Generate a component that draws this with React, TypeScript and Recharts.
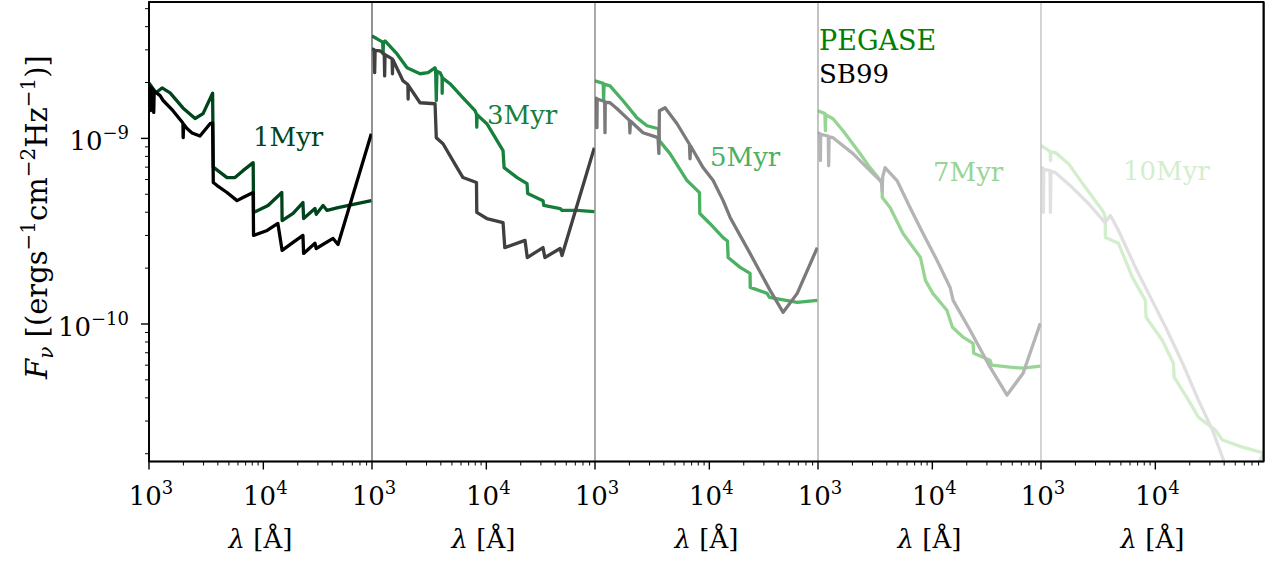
import React from 'react';
import { LineChart, Line, XAxis, YAxis, ReferenceLine } from 'recharts';

type Pt = [number, number];

const X_MIN = 1000;
const X_MAX = 89000;
const Y_MIN = 1.816e-11;
const Y_MAX = 5.43e-9;

const X_TICKS = [
  1000, 2000, 3000, 4000, 5000, 6000, 7000, 8000, 9000,
  10000, 20000, 30000, 40000, 50000, 60000, 70000, 80000,
];
const Y_TICKS = [
  2e-11, 3e-11, 4e-11, 5e-11, 6e-11, 7e-11, 8e-11, 9e-11,
  1e-10, 2e-10, 3e-10, 4e-10, 5e-10, 6e-10, 7e-10, 8e-10, 9e-10,
  1e-9, 2e-9, 3e-9, 4e-9, 5e-9,
];

const AGES = ['1Myr', '3Myr', '5Myr', '7Myr', '10Myr'];
const PEGASE_COLORS = ['#00441b', '#157f3b', '#4bb062', '#98d594', '#d3eecd'];
const SB99_COLORS = ['#000000', '#404040', '#7a7a7a', '#b5b5b5', '#e0e0e0'];
const SPINE_COLORS = ['#262626', '#555555', '#888888', '#aaaaaa'];

// [wavelength in Å, F_nu]
const PEGASE_1: Pt[] = [
  [1000, 1.99e-9], [1150, 1.76e-9], [1300, 1.87e-9], [1530, 1.76e-9], [1980, 1.46e-9],
  [2530, 1.28e-9], [2970, 1.36e-9], [3600, 1.75e-9], [3650, 0.7e-9], [4810, 0.615e-9],
  [5650, 0.615e-9], [6640, 0.67e-9], [8150, 0.74e-9], [8210, 0.399e-9], [11000, 0.435e-9],
  [14500, 0.511e-9], [14600, 0.361e-9], [18200, 0.394e-9], [22200, 0.451e-9], [22500, 0.37e-9],
  [28300, 0.419e-9], [29000, 0.39e-9], [33300, 0.435e-9], [36100, 0.409e-9], [45000, 0.424e-9],
  [60000, 0.44e-9], [88000, 0.462e-9],
];
const SB99_1: Pt[] = [
  [1000, 1.92e-9], [1025, 1.9e-9], [1030, 1.41e-9], [1036, 1.88e-9], [1090, 1.82e-9],
  [1100, 1.38e-9], [1110, 1.8e-9], [1250, 1.7e-9], [1330, 1.6e-9], [1620, 1.41e-9],
  [1980, 1.21e-9], [1990, 1.01e-9], [2010, 1.19e-9], [2150, 1.13e-9], [2380, 1.07e-9],
  [2790, 1.03e-9], [3420, 1.2e-9], [3600, 1.21e-9], [3650, 0.578e-9], [3940, 0.557e-9],
  [4810, 0.511e-9], [5890, 0.462e-9], [6640, 0.48e-9], [8150, 0.511e-9], [8210, 0.3e-9],
  [10800, 0.319e-9], [13400, 0.348e-9], [14600, 0.249e-9], [18200, 0.275e-9], [22200, 0.3e-9],
  [22500, 0.24e-9], [28300, 0.272e-9], [29000, 0.255e-9], [40700, 0.289e-9], [45000, 0.268e-9],
  [88000, 1.06e-9],
];
const PEGASE_3: Pt[] = [
  [1000, 3.56e-9], [1106, 3.44e-9], [1240, 3.3e-9], [1250, 2.85e-9], [1260, 3.3e-9],
  [1300, 3.35e-9], [1655, 2.85e-9], [2024, 2.4e-9], [2630, 2.23e-9], [3090, 2.26e-9],
  [3557, 2.4e-9], [3600, 2.35e-9], [3650, 1.6e-9], [3700, 2.3e-9], [3940, 2.26e-9],
  [4100, 2.15e-9], [4110, 1.75e-9], [4120, 2.12e-9], [4810, 1.97e-9], [6250, 1.655e-9],
  [7960, 1.41e-9], [8200, 1.35e-9], [8250, 1.15e-9], [8300, 1.34e-9], [10100, 1.2e-9],
  [14000, 0.859e-9], [14300, 0.696e-9], [18600, 0.615e-9], [22700, 0.571e-9], [23000, 0.504e-9],
  [31300, 0.462e-9], [31800, 0.435e-9], [44200, 0.419e-9], [46000, 0.409e-9], [62200, 0.409e-9],
  [88000, 0.403e-9],
];
const SB99_3: Pt[] = [
  [1000, 3.04e-9], [1045, 3.0e-9], [1055, 2.26e-9], [1065, 2.98e-9], [1175, 2.96e-9],
  [1280, 2.85e-9], [1290, 2.17e-9], [1300, 2.83e-9], [1500, 2.68e-9], [1510, 2.23e-9],
  [1520, 2.66e-9], [1870, 2.04e-9], [2060, 1.95e-9], [2070, 1.63e-9], [2080, 1.93e-9],
  [2630, 1.556e-9], [3560, 1.537e-9], [3650, 1.009e-9], [4180, 0.936e-9], [5540, 0.696e-9],
  [6250, 0.615e-9], [8200, 0.578e-9], [8250, 0.399e-9], [10100, 0.37e-9], [14000, 0.352e-9],
  [14500, 0.258e-9], [21800, 0.282e-9], [22800, 0.228e-9], [31300, 0.258e-9], [32500, 0.228e-9],
  [44200, 0.255e-9], [45900, 0.234e-9], [88000, 0.891e-9],
];
const PEGASE_5: Pt[] = [
  [1000, 2.04e-9], [1180, 1.98e-9], [1190, 1.6e-9], [1200, 1.96e-9], [1353, 1.92e-9],
  [1760, 1.595e-9], [2330, 1.29e-9], [2850, 1.17e-9], [3600, 1.127e-9], [3650, 0.972e-9],
  [4530, 0.828e-9], [6380, 0.593e-9], [8200, 0.51e-9], [8250, 0.394e-9], [10100, 0.348e-9],
  [13200, 0.292e-9], [14400, 0.28e-9], [14600, 0.228e-9], [18600, 0.2018e-9], [22700, 0.1873e-9],
  [22800, 0.1574e-9], [32000, 0.1462e-9], [33500, 0.1393e-9], [58700, 0.1308e-9], [88000, 0.1341e-9],
];
const SB99_5: Pt[] = [
  [1000, 1.655e-9], [1035, 1.64e-9], [1040, 1.142e-9], [1045, 1.63e-9], [1215, 1.58e-9],
  [1223, 1.073e-9], [1230, 1.57e-9], [1353, 1.556e-9], [1560, 1.445e-9], [2000, 1.25e-9],
  [2020, 1.07e-9], [2040, 1.24e-9], [2630, 1.073e-9], [3557, 1.009e-9], [3620, 0.83e-9],
  [3660, 1.41e-9], [4100, 1.462e-9], [5220, 1.199e-9], [6700, 0.93e-9], [6780, 0.777e-9],
  [6860, 0.91e-9], [8810, 0.696e-9], [10800, 0.593e-9], [13200, 0.462e-9], [15200, 0.375e-9],
  [22700, 0.24e-9], [34000, 0.1518e-9], [44200, 0.1156e-9], [58700, 0.1462e-9], [88000, 0.258e-9],
];
const PEGASE_7: Pt[] = [
  [1000, 1.409e-9], [1150, 1.36e-9], [1160, 1.1e-9], [1170, 1.34e-9], [1353, 1.276e-9],
  [1655, 1.1e-9], [2330, 0.828e-9], [2850, 0.696e-9], [3630, 0.578e-9], [3650, 0.48e-9],
  [4270, 0.424e-9], [5540, 0.307e-9], [7870, 0.2284e-9], [8700, 0.1718e-9], [10100, 0.1462e-9],
  [13400, 0.1185e-9], [15000, 0.096e-9], [18600, 0.0849e-9], [22700, 0.0787e-9], [23000, 0.0696e-9],
  [32000, 0.0638e-9], [33000, 0.06e-9], [47900, 0.0585e-9], [62200, 0.0578e-9], [88000, 0.0593e-9],
];
const SB99_7: Pt[] = [
  [1000, 1.073e-9], [1045, 1.06e-9], [1050, 0.76e-9], [1055, 1.05e-9], [1230, 1.03e-9],
  [1240, 0.713e-9], [1250, 1.02e-9], [1353, 1.009e-9], [2024, 0.828e-9], [2680, 0.696e-9],
  [3490, 0.593e-9], [3600, 0.575e-9], [3640, 0.52e-9], [3680, 0.62e-9], [3860, 0.696e-9],
  [4910, 0.593e-9], [6380, 0.424e-9], [8290, 0.307e-9], [11000, 0.22e-9], [14300, 0.1574e-9],
  [15200, 0.1341e-9], [21400, 0.0925e-9], [32000, 0.0585e-9], [45000, 0.0414e-9], [62200, 0.0543e-9],
  [88000, 0.1009e-9],
];
const PEGASE_10: Pt[] = [
  [1000, 0.914e-9], [1200, 0.85e-9], [1210, 0.76e-9], [1220, 0.845e-9], [1337, 0.838e-9],
  [1740, 0.731e-9], [2450, 0.543e-9], [3450, 0.409e-9], [3640, 0.379e-9], [3660, 0.292e-9],
  [4760, 0.272e-9], [6300, 0.1782e-9], [8180, 0.1341e-9], [8300, 0.1087e-9], [11500, 0.0817e-9],
  [14400, 0.0615e-9], [14600, 0.0517e-9], [19500, 0.0389e-9], [23800, 0.0315e-9], [33500, 0.0268e-9],
  [38600, 0.0237e-9], [57800, 0.0217e-9], [88000, 0.0202e-9],
];
const SB99_10: Pt[] = [
  [1000, 0.696e-9], [1045, 0.69e-9], [1050, 0.4e-9], [1058, 0.68e-9], [1200, 0.67e-9],
  [1210, 0.4e-9], [1220, 0.665e-9], [1337, 0.654e-9], [1880, 0.543e-9], [2600, 0.446e-9],
  [3640, 0.352e-9], [4050, 0.384e-9], [4760, 0.319e-9], [6700, 0.2018e-9], [8710, 0.1462e-9],
  [12300, 0.096e-9], [17300, 0.0615e-9], [23800, 0.0389e-9], [31600, 0.0268e-9], [39400, 0.0185e-9],
  [55600, 0.0105e-9], [88000, 0.0202e-9],
];

const PEGASE = [PEGASE_1, PEGASE_3, PEGASE_5, PEGASE_7, PEGASE_10];
const SB99 = [SB99_1, SB99_3, SB99_5, SB99_7, SB99_10];

const AGE_LABEL_POS = [
  [253, 146], [487, 124], [710, 166], [933, 181], [1123, 180],
];

const FONT = '"DejaVu Serif", "Liberation Serif", serif';
const PANEL_W = 222.9;
const PLOT_LEFT = 149;
const PLOT_TOP = 2;
const PLOT_BOTTOM = 461.5;
const PAD_L = 40;
const PAD_R = 14;
const HEIGHT = 565;
const FRAME = { stroke: '#000', strokeWidth: 1.6 };

const toPoints = (arr: Pt[]) => arr.map(([lam, f]) => ({ lam, f }));

const isMajor = (v: number) => Math.abs(Math.log10(v) - Math.round(Math.log10(v))) < 1e-6;

const XTick = (props: any) => {
  const { x, y, payload } = props;
  const v = payload.value;
  const major = isMajor(v);
  return (
    <g>
      <line x1={x} x2={x} y1={y} y2={y + (major ? 8 : 4)} stroke="#000" strokeWidth={major ? 1.4 : 1} />
      {major && (
        <text x={x + 2} y={y + 43.5} textAnchor="middle" fontFamily={FONT} fontSize={26} fill="#000">
          10<tspan dy={-11} fontSize={18}>{Math.round(Math.log10(v))}</tspan>
        </text>
      )}
    </g>
  );
};

const YTick = (props: any) => {
  const { x, y, payload } = props;
  const v = payload.value;
  const major = isMajor(v);
  const e = Math.round(Math.log10(v));
  return (
    <g>
      <line x1={x - (major ? 8 : 4)} x2={x} y1={y} y2={y} stroke="#000" strokeWidth={major ? 1.4 : 1} />
      {major && (
        <text x={x - 20} y={y + 12} textAnchor="end" fontFamily={FONT} fontSize={26} fill="#000">
          10<tspan dy={-11} fontSize={18}>{'\u2212' + Math.abs(e)}</tspan>
        </text>
      )}
    </g>
  );
};

const XTitle = ({ cx }: { cx: number }) => (
  <text x={cx} y={548} textAnchor="middle" fontFamily={FONT} fontSize={26} fill="#000">
    <tspan fontStyle="italic">λ</tspan> [Å]
  </text>
);

const YTitle = () => (
  <text
    x={47}
    y={217}
    transform="rotate(-90 47 217)"
    textAnchor="middle"
    fontFamily={FONT}
    fontSize={29}
    fill="#000"
  >
    <tspan fontStyle="italic">F</tspan>
    <tspan fontStyle="italic" fontSize={20} dy={6}>ν</tspan>
    <tspan dy={-6}> [(ergs</tspan>
    <tspan fontSize={20} dy={-12}>−1</tspan>
    <tspan dy={12}>cm</tspan>
    <tspan fontSize={20} dy={-12}>−2</tspan>
    <tspan dy={12}>Hz</tspan>
    <tspan fontSize={20} dy={-12}>−1</tspan>
    <tspan dy={12}>)]</tspan>
  </text>
);

function Panel({ index }: { index: number }) {
  const first = index === 0;
  const last = index === AGES.length - 1;
  const leftPad = first ? PLOT_LEFT : PAD_L;
  const width = leftPad + PANEL_W + PAD_R;
  const pageLeft = PLOT_LEFT + index * PANEL_W - leftPad;

  return (
    <div style={{ position: 'absolute', left: pageLeft, top: 0 }}>
      <LineChart
        width={width}
        height={HEIGHT}
        margin={{ top: PLOT_TOP, right: PAD_R, bottom: 0, left: first ? 0 : PAD_L }}
      >
        <XAxis
          type="number"
          dataKey="lam"
          scale="log"
          domain={[X_MIN, X_MAX]}
          allowDataOverflow
          ticks={X_TICKS}
          interval={0}
          height={HEIGHT - PLOT_BOTTOM}
          tickSize={0}
          tickMargin={0}
          tickLine={false}
          axisLine={FRAME}
          tick={<XTick />}
          label={<XTitle cx={leftPad + PANEL_W / 2} />}
        />
        {first ? (
          <YAxis
            type="number"
            dataKey="f"
            scale="log"
            domain={[Y_MIN, Y_MAX]}
            allowDataOverflow
            ticks={Y_TICKS}
            interval={0}
            width={PLOT_LEFT}
            tickSize={0}
            tickMargin={0}
            tickLine={false}
            axisLine={FRAME}
            tick={<YTick />}
            label={<YTitle />}
          />
        ) : (
          <YAxis hide type="number" dataKey="f" scale="log" domain={[Y_MIN, Y_MAX]} allowDataOverflow />
        )}
        <Line
          data={toPoints(PEGASE[index])}
          dataKey="f"
          type="linear"
          stroke={PEGASE_COLORS[index]}
          strokeWidth={3.3}
          strokeLinejoin="round"
          dot={false}
          isAnimationActive={false}
        />
        <Line
          data={toPoints(SB99[index])}
          dataKey="f"
          type="linear"
          stroke={SB99_COLORS[index]}
          strokeWidth={3.3}
          strokeLinejoin="round"
          dot={false}
          isAnimationActive={false}
        />
        {!first && (
          <ReferenceLine x={X_MIN} stroke={SPINE_COLORS[index - 1]} strokeWidth={1} ifOverflow="visible" />
        )}
        <ReferenceLine y={Y_MAX * 0.998} stroke="#000" strokeWidth={1.8} />
        {last && <ReferenceLine x={X_MAX * 0.997} stroke="#000" strokeWidth={1.8} />}
      </LineChart>
    </div>
  );
}

export default function App() {
  const plotRight = PLOT_LEFT + AGES.length * PANEL_W;
  return (
    <div style={{ position: 'absolute', left: 0, top: 0, width: 1277, height: HEIGHT, background: '#fff' }}>
      {AGES.map((age, i) => (
        <Panel key={age} index={i} />
      ))}
      <svg
        width={1277}
        height={HEIGHT}
        style={{ position: 'absolute', left: 0, top: 0, pointerEvents: 'none' }}
      >
        <rect
          x={PLOT_LEFT}
          y={PLOT_TOP}
          width={plotRight - PLOT_LEFT}
          height={PLOT_BOTTOM - PLOT_TOP}
          fill="none"
          stroke="#000"
          strokeWidth={1.8}
        />
        {AGES.map((age, i) => (
          <text
            key={age}
            x={AGE_LABEL_POS[i][0]}
            y={AGE_LABEL_POS[i][1]}
            fontFamily={FONT}
            fontSize={26}
            fill={PEGASE_COLORS[i]}
          >
            {age}
          </text>
        ))}
        <text x={819} y={50} fontFamily={FONT} fontSize={27} fill="#008000">PEGASE</text>
        <text x={819} y={83} fontFamily={FONT} fontSize={26} fill="#000">SB99</text>
      </svg>
    </div>
  );
}
